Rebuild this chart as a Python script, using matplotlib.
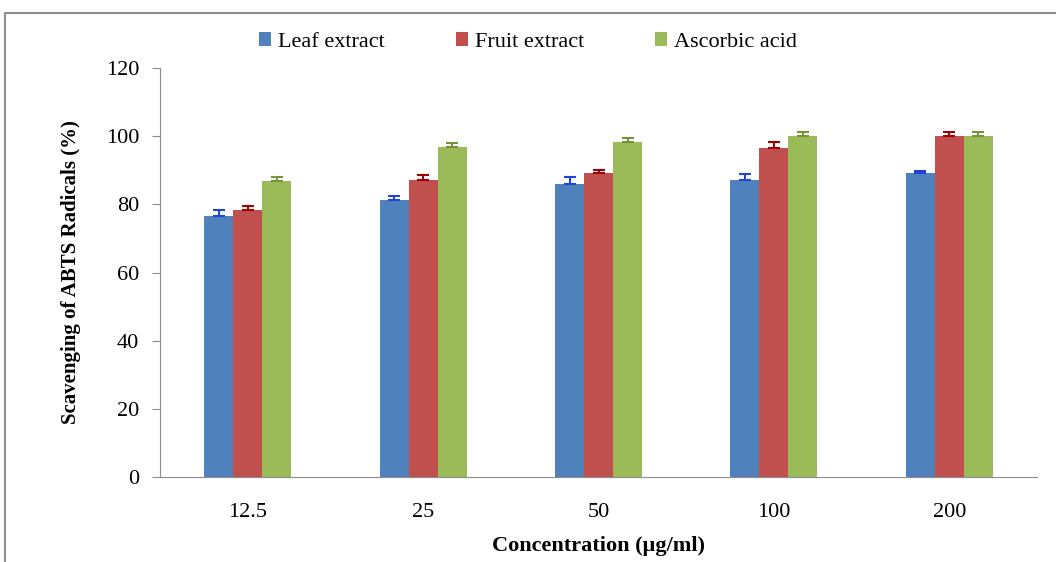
import numpy as np
import matplotlib.pyplot as plt
from matplotlib.patches import Rectangle

# === data ===
concentrations = ['12.5', '25', '50', '100', '200']
leaf = [76.6, 81.3, 86.0, 87.1, 89.2]
fruit = [78.3, 87.1, 89.2, 96.5, 100.1]
ascorbic = [86.9, 96.8, 98.4, 100.1, 100.0]
leaf_err = [1.6, 1.2, 2.0, 1.7, 0.6]
fruit_err = [1.3, 1.4, 0.9, 1.7, 1.1]
ascorbic_err = [1.0, 1.2, 1.2, 1.0, 1.1]

plt.rcParams['font.family'] = ['Liberation Serif', 'DejaVu Serif']

fig = plt.figure(figsize=(10.56, 5.62), dpi=100)
ax = fig.add_axes([160 / 1056, 1 - 477 / 562, 877 / 1056, 409 / 562])

# outer chart frame (cut off at right and bottom)
fig.patches.append(Rectangle((5 / 1056, -0.1), 1.2, 1 - 13 / 562 + 0.1,
                             transform=fig.transFigure, fill=False,
                             edgecolor='#8c8c8c', linewidth=1.5))

x = np.arange(len(concentrations))
w = 29 / 175.4
series = [
    ('Leaf extract', leaf, leaf_err, '#4F81BD', '#1f45d6'),
    ('Fruit extract', fruit, fruit_err, '#C0504D', '#a00000'),
    ('Ascorbic acid', ascorbic, ascorbic_err, '#9BBB59', '#76923c'),
]
for i, (name, vals, err, col, ecol) in enumerate(series):
    pos = x + (i - 1) * w
    ax.bar(pos, vals, width=w, color=col, label=name, zorder=2)
    ax.errorbar(pos, vals, yerr=[np.zeros(len(err)), err], fmt='none',
                ecolor=ecol, elinewidth=1.5, capsize=4, capthick=1.5, zorder=3)

ax.set_xlim(-0.5, len(concentrations) - 0.5)
ax.set_ylim(0, 120)
ax.set_yticks(range(0, 121, 20))
ax.set_xticks(x)
ax.set_xticklabels(concentrations)
ax.tick_params(axis='x', length=0, pad=19, labelsize=16)
ax.tick_params(axis='y', length=6, direction='out', color='#8c8c8c', pad=9, labelsize=16)
for s in ['top', 'right']:
    ax.spines[s].set_visible(False)
for s in ['left', 'bottom']:
    ax.spines[s].set_color('#8c8c8c')

ax.set_xlabel('Concentration (µg/ml)', fontsize=16, fontweight='bold', labelpad=10)
ax.set_ylabel('Scavenging of ABTS Radicals (%)', fontsize=15, fontweight='bold', labelpad=18)

fig.legend(loc='center', bbox_to_anchor=(528 / 1056, 1 - 42 / 562), ncol=3,
           frameon=False, fontsize=16, handlelength=0.55, handleheight=0.55,
           handletextpad=0.3, columnspacing=3.2)

plt.savefig('out.png', dpi=100)
plt.close()
